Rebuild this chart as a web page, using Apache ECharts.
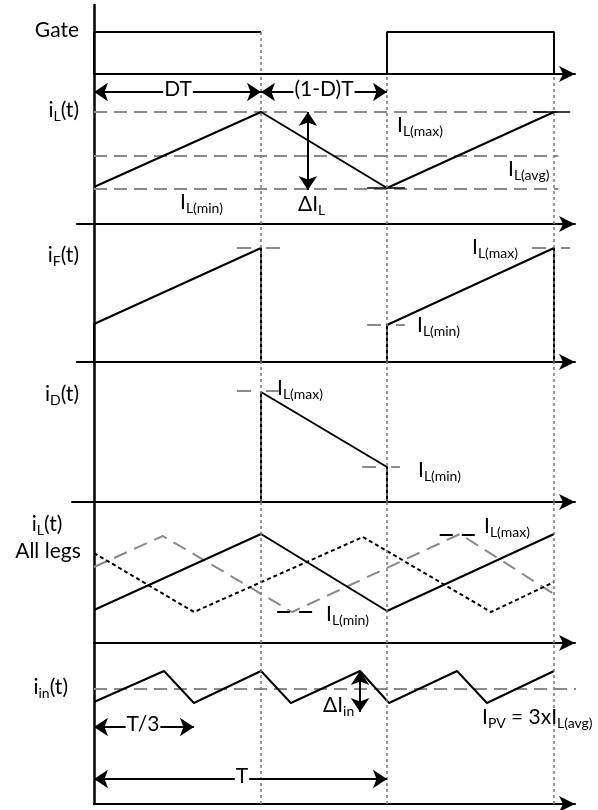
<!DOCTYPE html>
<html>
<head>
<meta charset="utf-8">
<script src="https://cdn.jsdelivr.net/npm/echarts@6/dist/echarts.min.js"></script>
<style>
  html, body { margin: 0; padding: 0; background: #fff; }
  #chart { width: 598px; height: 810px; }
</style>
</head>
<body>
<div id="chart"></div>
<script>
// time base: one switching period T = 10 units, duty D = 0.57
const DT = 5.7
const T = 10
const PERIOD_MARKS = [DT, T, T + DT]

// gate signal (0 = off, 1 = on)
const gateOn1 = [[0, 0], [0, 1], [DT, 1]]
const gateFall1 = [[DT, 1], [DT, 0]]
const gateOn2 = [[T, 0], [T, 1], [T + DT, 1], [T + DT, 0]]

// inductor current of one leg
const iLWave = [[0, 0.37], [DT, 1.12], [T, 0.36], [T + DT, 1.12]]
const iLMax = [[0, 1.12], [15.85, 1.12]]
const iLAvg = [[0, 0.68], [15.85, 0.68]]
const iLMin = [[0, 0.35], [15.85, 0.35]]
const iLTickMin = [[9.32, 0.36], [10.61, 0.36]]
const iLTickMax = [[14.98, 1.12], [16.25, 1.12]]

// switch current
const iFWave1 = [[0, 0], [0, 0.38], [DT, 1.14], [DT, 0]]
const iFWave2 = [[T, 0], [T, 0.37], [T + DT, 1.14], [T + DT, 0]]
const iFMarks = [
  [[4.88, 1.14], [6.42, 1.14]],
  [[9.32, 0.37], [10.61, 0.37]],
  [[14.95, 1.14], [16.25, 1.14]]
]

// diode current
const iDWave = [[DT, 0], [DT, 1.10], [T, 0.35], [T, 0]]
const iDMarks = [
  [[4.88, 1.11], [6.3, 1.11]],
  [[9.15, 0.35], [10.44, 0.35]]
]

// all three interleaved legs
const legA = [[0, 0.33], [DT, 1.09], [T, 0.32], [T + DT, 1.09]]
const legB = [[0, 0.76], [2.35, 1.07], [6.76, 0.31], [12.49, 1.09], [15.7, 0.49]]
const legC = [[0, 0.90], [3.41, 0.31], [9.18, 1.06], [13.55, 0.31], [15.7, 0.61]]
const legMarkMax = [[11.8, 1.08], [13.07, 1.08]]
const legMarkMin = [[6.25, 0.31], [7.47, 0.31]]

// input current
const iinWave = [[0, 1.02], [2.39, 1.33], [3.41, 1.01], [DT, 1.33], [6.72, 1.01], [9.08, 1.33],
  [10.07, 1.01], [12.39, 1.33], [13.41, 1.01], [T + DT, 1.33]]
const iinAvg = [[0, 1.15], [16.8, 1.15]]

// dimension arrows [x1, y1, x2, y2]
const dimDT = [0, 1.32, DT, 1.32]
const dimOffT = [DT, 1.32, T, 1.32]
const dimDeltaIL = [7.3, 1.12, 7.3, 0.34]
const dimT3 = [0, 0.77, 3.41, 0.77]
const dimT = [0, 0.25, T, 0.25]
const dimDeltaIin = [9.08, 1.33, 9.08, 0.92]

// panel layout (pixels)
const X0 = 94
const XEND = 575
const PX = 29.3
const panels = [
  { top: 5, bottom: 74, left: 94, yMax: 1.64 },
  { top: 74, bottom: 224, left: 77, yMax: 1.5 },
  { top: 224, bottom: 362, left: 77, yMax: 1.38 },
  { top: 362, bottom: 502, left: 72, yMax: 1.40 },
  { top: 502, bottom: 643, left: 94, yMax: 1.41 },
  { top: 643, bottom: 804, left: 94, yMax: 1.61 }
]

const FONT = 'Lato, "Noto Sans", sans-serif'
const GREY = '#8a8a8a'

const grid = panels.map(p => ({ left: p.left, width: XEND - p.left, top: p.top, height: p.bottom - p.top }))
const xAxis = panels.map((p, i) => ({
  type: 'value', gridIndex: i,
  min: (p.left - X0) / PX, max: (XEND - X0) / PX,
  axisLine: { show: true, onZero: true, symbol: ['none', 'arrow'], symbolSize: [12, 16], lineStyle: { color: '#000', width: 2 } },
  axisTick: { show: false }, axisLabel: { show: false }, splitLine: { show: false }
}))
const yAxis = panels.map((p, i) => ({
  type: 'value', gridIndex: i, min: 0, max: p.yMax,
  axisLine: { show: true, onZero: true, lineStyle: { color: '#000', width: 2.5 } },
  axisTick: { show: false }, axisLabel: { show: false }, splitLine: { show: false }
}))

const series = []
function line(gi, data, style, extra) {
  series.push(Object.assign({
    type: 'line', xAxisIndex: gi, yAxisIndex: gi, data,
    showSymbol: false, symbol: 'none', silent: true, animation: false,
    lineStyle: Object.assign({ color: '#000', width: 2 }, style)
  }, extra || {}))
}
const solid = {}
const dashedGrey = { color: GREY, width: 2, type: [13, 7] }
const markGrey = { color: GREY, width: 2, type: [14, 15] }

function dimArrow(gi, d) {
  series.push({
    type: 'line', xAxisIndex: gi, yAxisIndex: gi, data: [], silent: true, animation: false,
    markLine: {
      silent: true, animation: false, symbol: ['arrow', 'arrow'], symbolSize: 14,
      label: { show: false },
      lineStyle: { color: '#000', width: 2, type: 'solid' },
      data: [[{ coord: [d[0], d[1]] }, { coord: [d[2], d[3]] }]]
    }
  })
}

// gate
line(0, gateOn1, solid)
line(0, gateFall1, { color: '#777', width: 1.5, type: [3, 3] })
line(0, gateOn2, solid)

// vertical period guides in panels 1..5
for (let gi = 1; gi < panels.length; gi++) {
  series.push({
    type: 'line', xAxisIndex: gi, yAxisIndex: gi, data: [], silent: true, animation: false,
    markLine: {
      silent: true, animation: false, symbol: 'none', label: { show: false },
      lineStyle: { color: '#777', width: 1.5, type: [3, 3] },
      data: PERIOD_MARKS.map(v => ({ xAxis: v }))
    }
  })
}

// iL
line(1, iLMax, dashedGrey)
line(1, iLAvg, dashedGrey)
line(1, iLMin, dashedGrey)
line(1, iLWave, solid)
line(1, iLTickMin, { width: 1.5 })
line(1, iLTickMax, { width: 1.5 })
dimArrow(1, dimDT)
dimArrow(1, dimOffT)
dimArrow(1, dimDeltaIL)

// iF
iFMarks.forEach(m => line(2, m, markGrey))
line(2, iFWave1, solid)
line(2, iFWave2, solid)

// iD
iDMarks.forEach(m => line(3, m, markGrey))
line(3, iDWave, solid)

// all legs
line(4, legB, { color: GREY, width: 2, type: [14, 8] })
line(4, legC, { color: '#000', width: 2, type: [4, 3] })
line(4, legA, solid)
line(4, legMarkMax, { color: '#000', width: 2, type: [13, 9] })
line(4, legMarkMin, { color: '#000', width: 2, type: [13, 9] })

// iin
line(5, iinAvg, dashedGrey, { clip: false })
line(5, iinWave, solid)
dimArrow(5, dimT3)
dimArrow(5, dimT)
dimArrow(5, dimDeltaIin)

// text labels
const rich = {
  n: { fontSize: 21, fontFamily: FONT, lineHeight: 26, verticalAlign: 'top', color: '#000' },
  s: { fontSize: 14, fontFamily: FONT, height: 20, lineHeight: 20, verticalAlign: 'bottom', color: '#000' }
}
const labels = [
  ['{n|Gate}', 79, 33, 'right'],
  ['{n|i}{s|L}{n|(t)}', 79, 113, 'right'],
  ['{n|DT}', 178, 92, 'center', true],
  ['{n|(1-D)T}', 324, 92, 'center', true],
  ['{n|I}{s|L(max)}', 397, 128, 'left'],
  ['{n|I}{s|L(avg)}', 508, 172, 'left'],
  ['{n|I}{s|L(min)}', 180, 205, 'left'],
  ['{n|\u0394I}{s|L}', 298, 207, 'left'],
  ['{n|i}{s|F}{n|(t)}', 79, 258, 'right'],
  ['{n|I}{s|L(max)}', 472, 250, 'left'],
  ['{n|I}{s|L(min)}', 417, 328, 'left'],
  ['{n|i}{s|D}{n|(t)}', 79, 397, 'right'],
  ['{n|I}{s|L(max)}', 277, 391, 'left'],
  ['{n|I}{s|L(min)}', 418, 473, 'left'],
  ['{n|i}{s|L}{n|(t)}', 47, 527, 'center'],
  ['{n|All legs}', 48, 554, 'center'],
  ['{n|I}{s|L(max)}', 484, 529, 'left'],
  ['{n|I}{s|L(min)}', 326, 617, 'left'],
  ['{n|i}{s|in}{n|(t)}', 68, 690, 'right'],
  ['{n|\u0394I}{s|in}', 323, 708, 'left'],
  ['{n|I}{s|PV}{n| = 3xI}{s|L(avg)}', 482, 720, 'left'],
  ['{n|T/3}', 143, 727, 'center', true],
  ['{n|T}', 242, 779, 'center', true]
]
const graphic = labels.map(([text, x, y, align, bg]) => ({
  type: 'text', x, y, z: 100, silent: true,
  style: {
    text, rich, align, verticalAlign: 'middle',
    backgroundColor: bg ? '#fff' : undefined, padding: bg ? [0, 1] : 0
  }
}))

const chart = echarts.init(document.getElementById('chart'), null, { renderer: 'canvas' })
chart.setOption({
  backgroundColor: '#fff',
  animation: false,
  grid, xAxis, yAxis, series, graphic
})
</script>
</body>
</html>
